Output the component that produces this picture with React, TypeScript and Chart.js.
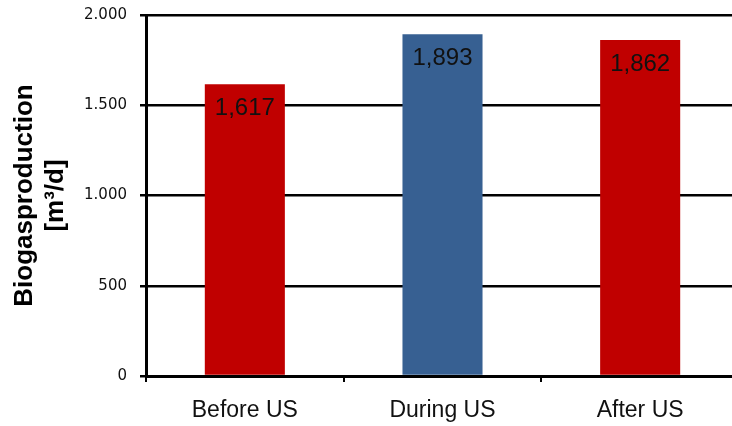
import React, { useEffect, useRef } from "react";
import { Chart, registerables } from "chart.js";

Chart.register(...registerables);

const categories = ["Before US", "During US", "After US"];
const values = [1617, 1893, 1862];
const barColors = ["#C00000", "#376092", "#C00000"];
const valueLabels = ["1,617", "1,893", "1,862"];
const yTitle = ["Biogasproduction", "[m³/d]"];
const yMin = 0;
const yMax = 2000;
const yStep = 500;

function formatTick(v: number): string {
  const s = String(Math.round(v));
  return s.replace(/\B(?=(\d{3})+(?!\d))/g, ".");
}

const dataLabelPlugin = {
  id: "dataLabels",
  afterDatasetsDraw(chart: any) {
    const ctx = chart.ctx;
    const meta = chart.getDatasetMeta(0);
    ctx.save();
    ctx.font = "24px 'Liberation Sans', Arial, sans-serif";
    ctx.fillStyle = "#111111";
    ctx.textAlign = "center";
    ctx.textBaseline = "middle";
    meta.data.forEach((bar: any, i: number) => {
      ctx.fillText(valueLabels[i], bar.x, bar.y + 24);
    });
    ctx.restore();
  },
};

export default function App() {
  const canvasRef = useRef<HTMLCanvasElement | null>(null);

  useEffect(() => {
    if (!canvasRef.current) return;
    const chart = new Chart(canvasRef.current, {
      type: "bar",
      data: {
        labels: categories,
        datasets: [
          {
            data: values,
            backgroundColor: barColors,
            borderWidth: 0,
            barPercentage: 0.405,
            categoryPercentage: 1,
          },
        ],
      },
      options: {
        responsive: false,
        animation: false,
        devicePixelRatio: 1,
        layout: { padding: { left: 0, right: 6, top: 15, bottom: 0 } },
        plugins: {
          legend: { display: false },
          tooltip: { enabled: false },
        },
        scales: {
          x: {
            type: "category",
            grid: {
              display: true,
              drawOnChartArea: false,
              drawTicks: true,
              tickLength: 6,
              color: "#000000",
              lineWidth: 2,
              offset: true,
            },
            border: { display: true, color: "#000000", width: 3 },
            ticks: {
              color: "#111111",
              padding: 15,
              font: { family: "'Liberation Sans', Arial, sans-serif", size: 23 },
              maxRotation: 0,
            },
            afterFit: (scale: any) => {
              scale.height = 50;
              scale.paddingLeft = 0;
              scale.paddingRight = 0;
            },
          },
          y: {
            min: yMin,
            max: yMax,
            grid: {
              display: true,
              drawOnChartArea: true,
              drawTicks: true,
              tickLength: 6,
              color: "#000000",
              lineWidth: 2.5,
            },
            border: { display: true, color: "#000000", width: 3 },
            ticks: {
              stepSize: yStep,
              color: "#111111",
              padding: 13,
              font: { family: "'DejaVu Sans', Verdana, sans-serif", size: 15 },
              callback: (v: any) => formatTick(Number(v)),
            },
            title: {
              display: true,
              text: yTitle,
              color: "#000000",
              font: { family: "'Liberation Sans', Arial, sans-serif", size: 26, weight: "bold" },
              padding: { top: 9, bottom: 0 },
            },
            afterFit: (scale: any) => {
              scale.width = 146;
              scale.paddingTop = 0;
              scale.paddingBottom = 0;
            },
          },
        },
      } as any,
      plugins: [dataLabelPlugin],
    });
    return () => chart.destroy();
  }, []);

  return (
    <div
      style={{
        position: "fixed",
        left: 0,
        top: 0,
        width: 732,
        height: 426,
        overflow: "hidden",
        background: "#ffffff",
      }}
    >
      <canvas
        ref={canvasRef}
        width={745}
        height={426}
        style={{ display: "block", width: 745, height: 426 }}
      />
    </div>
  );
}
